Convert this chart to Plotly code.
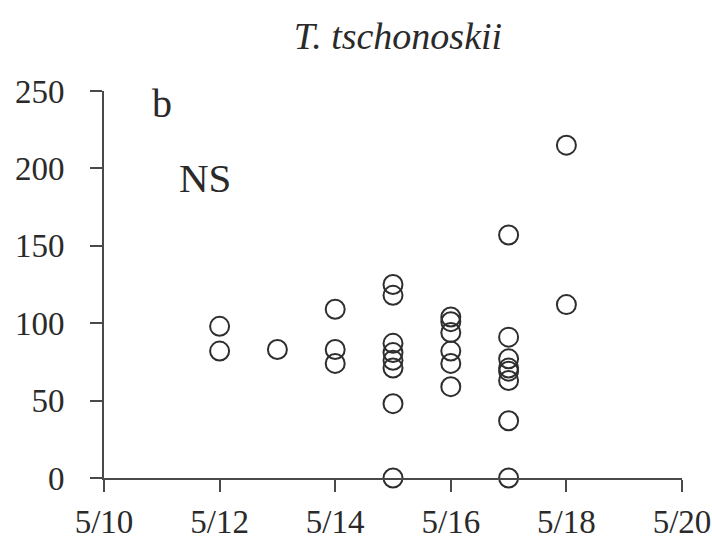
import plotly.graph_objects as go

# Observation day (May) and measured value for each individual
day = [12, 12,
       13,
       14, 14, 14,
       15, 15, 15, 15, 15, 15, 15, 15,
       16, 16, 16, 16, 16, 16,
       17, 17, 17, 17, 17, 17, 17, 17,
       18, 18]
value = [98, 82,
         83,
         109, 83, 74,
         125, 118, 87, 81, 76, 71, 48, 0,
         104, 101, 94, 82, 74, 59,
         157, 91, 77, 71, 69, 63, 37, 0,
         215, 112]

tick_days = [10, 12, 14, 16, 18, 20]
tick_labels = ["5/10", "5/12", "5/14", "5/16", "5/18", "5/20"]
y_ticks = [0, 50, 100, 150, 200, 250]

FONT = "Liberation Serif, DejaVu Serif, serif"
TEXT_COLOR = "#2a2a2a"
AXIS_COLOR = "#4a4a4a"

fig = go.Figure(
    go.Scatter(
        x=day,
        y=value,
        mode="markers",
        marker=dict(
            symbol="circle-open",
            size=19,
            color="#2e2e2e",
            line=dict(width=2, color="#2e2e2e"),
        ),
        cliponaxis=False,
        showlegend=False,
    )
)

axis_style = dict(
    showgrid=False,
    zeroline=False,
    showline=True,
    linecolor=AXIS_COLOR,
    linewidth=2,
    ticks="outside",
    ticklen=12,
    tickwidth=2,
    tickcolor=AXIS_COLOR,
    automargin=False,
)

fig.update_layout(
    width=712,
    height=545,
    margin=dict(l=104, r=30, t=91, b=67),
    paper_bgcolor="white",
    plot_bgcolor="white",
    font=dict(family=FONT, size=33, color=TEXT_COLOR),
    title=dict(
        text="<i>T. tschonoskii</i>",
        x=398 / 712,
        xanchor="center",
        y=1 - 36 / 545,
        yanchor="middle",
        font=dict(family=FONT, size=38, color=TEXT_COLOR),
    ),
    xaxis=dict(
        range=[10, 20],
        tickmode="array",
        tickvals=tick_days,
        ticktext=tick_labels,
        ticklabelstandoff=1,
        **axis_style,
    ),
    yaxis=dict(
        range=[0, 250],
        tickmode="array",
        tickvals=y_ticks,
        ticklabelstandoff=19,
        **axis_style,
    ),
    annotations=[
        dict(text="b", x=11.0, y=242, xref="x", yref="y",
             showarrow=False, xanchor="center", yanchor="middle",
             font=dict(family=FONT, size=40, color=TEXT_COLOR)),
        dict(text="NS", x=11.75, y=194, xref="x", yref="y",
             showarrow=False, xanchor="center", yanchor="middle",
             font=dict(family=FONT, size=41, color=TEXT_COLOR)),
    ],
)

fig.write_html("out.html")
